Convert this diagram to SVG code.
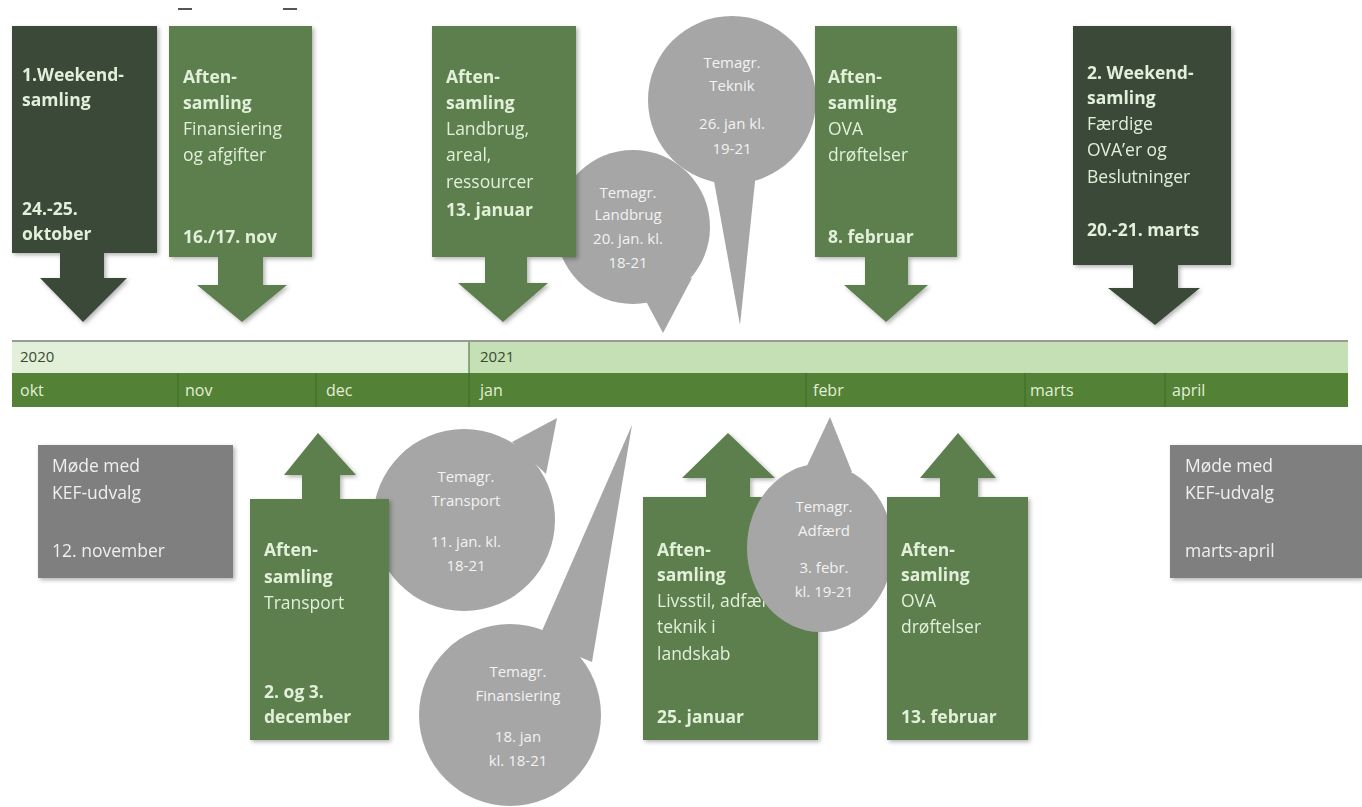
<svg xmlns="http://www.w3.org/2000/svg" width="1362" height="807" viewBox="0 0 1362 807">
<defs>
<filter id="sh" x="-10%" y="-10%" width="130%" height="130%">
<feDropShadow dx="2" dy="2" stdDeviation="2" flood-color="#000" flood-opacity="0.3"/>
</filter>
</defs>
<style>
.dark{fill:#3a4839}
.grn{fill:#5b7f4d}
.gry{fill:#7f7f7f}
.bub{fill:#a6a6a6}
text{font-family:"Open Sans","Liberation Sans",sans-serif;fill:#e2efd9}
.b{font-weight:bold;font-size:17.5px}
.r{font-size:17.5px}
.g{font-size:17.5px;fill:#efefef}
.s{font-size:15px;fill:#f2f2f2;text-anchor:middle}
.tl{font-size:16px}
.yr{font-size:15px;fill:#3a4a30}
</style>
<rect width="1362" height="807" fill="#ffffff"/>
<g id="marks">
<rect x="178" y="8" width="14" height="2" fill="#555"/>
<rect x="283" y="8" width="14" height="2" fill="#555"/>
</g>
<g id="timeline">
<rect x="12" y="340" width="1336" height="2" fill="#9a9a9a"/>
<rect x="12" y="342" width="457" height="31" fill="#e2efd9"/>
<rect x="469" y="342" width="879" height="31" fill="#c5e0b4"/>
<rect x="12" y="373" width="1336" height="34" fill="#538135"/>
<g stroke="#3f6a28" stroke-width="1">
<line x1="469" y1="342" x2="469" y2="407"/>
<line x1="178" y1="373" x2="178" y2="407"/>
<line x1="316" y1="373" x2="316" y2="407"/>
<line x1="806" y1="373" x2="806" y2="407"/>
<line x1="1025" y1="373" x2="1025" y2="407"/>
<line x1="1165" y1="373" x2="1165" y2="407"/>
</g>
<text class="yr" x="20" y="362">2020</text>
<text class="yr" x="480" y="362">2021</text>
<text class="tl" x="20" y="396">okt</text>
<text class="tl" x="185" y="396">nov</text>
<text class="tl" x="326" y="396">dec</text>
<text class="tl" x="480" y="396">jan</text>
<text class="tl" x="813" y="396">febr</text>
<text class="tl" x="1030" y="396">marts</text>
<text class="tl" x="1172" y="396">april</text>
</g>
<g id="bubble-teknik">
<polygon class="bub" points="712,170 756,172 740,325"/>
<circle class="bub" cx="732" cy="100" r="84"/>
<text class="s" x="732" y="68">Temagr.</text>
<text class="s" x="732" y="91">Teknik</text>
<text class="s" x="732" y="129">26. jan kl.</text>
<text class="s" x="732" y="154">19-21</text>
</g>
<g id="bubble-landbrug">
<polygon class="bub" points="640,290 692,278 663,333"/>
<circle class="bub" cx="633" cy="227" r="77"/>
<text class="s" x="628" y="198">Temagr.</text>
<text class="s" x="628" y="220">Landbrug</text>
<text class="s" x="628" y="244">20. jan. kl.</text>
<text class="s" x="628" y="268">18-21</text>
</g>
<g id="box-weekend1" filter="url(#sh)">
<rect class="dark" x="12" y="26" width="145" height="227"/>
<polygon class="dark" points="60,252 104,252 104,278 127,278 83,322 40,278 60,278"/>
<text class="b" x="22" y="81">1.Weekend-</text>
<text class="b" x="22" y="106">samling</text>
<text class="b" x="22" y="215">24.-25.</text>
<text class="b" x="22" y="240">oktober</text>
</g>
<g id="box-finansiering" filter="url(#sh)">
<rect class="grn" x="169" y="26" width="143" height="231"/>
<polygon class="grn" points="218,256 263,256 263,285 287,285 242,322 197,285 218,285"/>
<text class="b" x="183" y="83">Aften-</text>
<text class="b" x="183" y="109">samling</text>
<text class="r" x="183" y="135">Finansiering</text>
<text class="r" x="183" y="161">og afgifter</text>
<text class="b" x="183" y="243">16./17. nov</text>
</g>
<g id="box-landbrug" filter="url(#sh)">
<rect class="grn" x="432" y="26" width="144" height="231"/>
<polygon class="grn" points="485,256 527,256 527,283 548,283 503,322 458,283 485,283"/>
<text class="b" x="446" y="83">Aften-</text>
<text class="b" x="446" y="109">samling</text>
<text class="r" x="446" y="135">Landbrug,</text>
<text class="r" x="446" y="161">areal,</text>
<text class="r" x="446" y="188">ressourcer</text>
<text class="b" x="446" y="216">13. januar</text>
</g>
<g id="box-ova1" filter="url(#sh)">
<rect class="grn" x="815" y="26" width="142" height="231"/>
<polygon class="grn" points="865,256 908,256 908,285 928,285 886,322 844,285 865,285"/>
<text class="b" x="828" y="83">Aften-</text>
<text class="b" x="828" y="109">samling</text>
<text class="r" x="828" y="135">OVA</text>
<text class="r" x="828" y="161">drøftelser</text>
<text class="b" x="828" y="243">8. februar</text>
</g>
<g id="box-weekend2" filter="url(#sh)">
<rect class="dark" x="1073" y="26" width="158" height="239"/>
<polygon class="dark" points="1133,264 1178,264 1178,288 1200,288 1155,325 1108,288 1133,288"/>
<text class="b" x="1087" y="79">2. Weekend-</text>
<text class="b" x="1087" y="104">samling</text>
<text class="r" x="1087" y="130">Færdige</text>
<text class="r" x="1087" y="156">OVA’er og</text>
<text class="r" x="1087" y="183">Beslutninger</text>
<text class="b" x="1087" y="236">20.-21. marts</text>
</g>
<g id="box-kef1" filter="url(#sh)">
<rect class="gry" x="38" y="445" width="195" height="133"/>
<text class="g" x="52" y="472">Møde med</text>
<text class="g" x="52" y="499">KEF-udvalg</text>
<text class="g" x="52" y="557">12. november</text>
</g>
<g id="box-kef2" filter="url(#sh)">
<rect class="gry" x="1170" y="445" width="192" height="133"/>
<text class="g" x="1185" y="472">Møde med</text>
<text class="g" x="1185" y="499">KEF-udvalg</text>
<text class="g" x="1185" y="557">marts-april</text>
</g>
<g id="bubble-transport">
<polygon class="bub" points="512,442 546,474 557,418"/>
<circle class="bub" cx="464" cy="520" r="91"/>
<text class="s" x="466" y="482">Temagr.</text>
<text class="s" x="466" y="506">Transport</text>
<text class="s" x="466" y="547">11. jan. kl.</text>
<text class="s" x="466" y="571">18-21</text>
</g>
<g id="box-transport" filter="url(#sh)">
<rect class="grn" x="250" y="499" width="139" height="241"/>
<polygon class="grn" points="302,500 340,500 340,475 356,475 318,433 284,475 302,475"/>
<text class="b" x="264" y="556">Aften-</text>
<text class="b" x="264" y="583">samling</text>
<text class="r" x="264" y="609">Transport</text>
<text class="b" x="264" y="698">2. og 3.</text>
<text class="b" x="264" y="723">december</text>
</g>
<g id="bubble-finansiering">
<polygon class="bub" points="538,640 592,662 632,425"/>
<circle class="bub" cx="510" cy="715" r="91"/>
<text class="s" x="518" y="677">Temagr.</text>
<text class="s" x="518" y="701">Finansiering</text>
<text class="s" x="518" y="742">18. jan</text>
<text class="s" x="518" y="766">kl. 18-21</text>
</g>
<g id="box-livsstil" filter="url(#sh)">
<rect class="grn" x="643" y="497" width="175" height="243"/>
<polygon class="grn" points="706,498 750,498 750,478 775,478 728,433 682,478 706,478"/>
<text class="b" x="657" y="556">Aften-</text>
<text class="b" x="657" y="581">samling</text>
<text class="r" x="657" y="607">Livsstil, adfærd,</text>
<text class="r" x="657" y="633">teknik i</text>
<text class="r" x="657" y="660">landskab</text>
<text class="b" x="657" y="723">25. januar</text>
</g>
<g id="bubble-adfaerd">
<polygon class="bub" points="804,472 852,472 830,417"/>
<ellipse class="bub" cx="820" cy="548" rx="73" ry="84"/>
<text class="s" x="824" y="512">Temagr.</text>
<text class="s" x="824" y="536">Adfærd</text>
<text class="s" x="824" y="573">3. febr.</text>
<text class="s" x="824" y="597">kl. 19-21</text>
</g>
<g id="box-ova2" filter="url(#sh)">
<rect class="grn" x="887" y="497" width="141" height="243"/>
<polygon class="grn" points="940,498 978,498 978,478 996,478 958,433 920,478 940,478"/>
<text class="b" x="901" y="556">Aften-</text>
<text class="b" x="901" y="581">samling</text>
<text class="r" x="901" y="607">OVA</text>
<text class="r" x="901" y="633">drøftelser</text>
<text class="b" x="901" y="723">13. februar</text>
</g>
</svg>
